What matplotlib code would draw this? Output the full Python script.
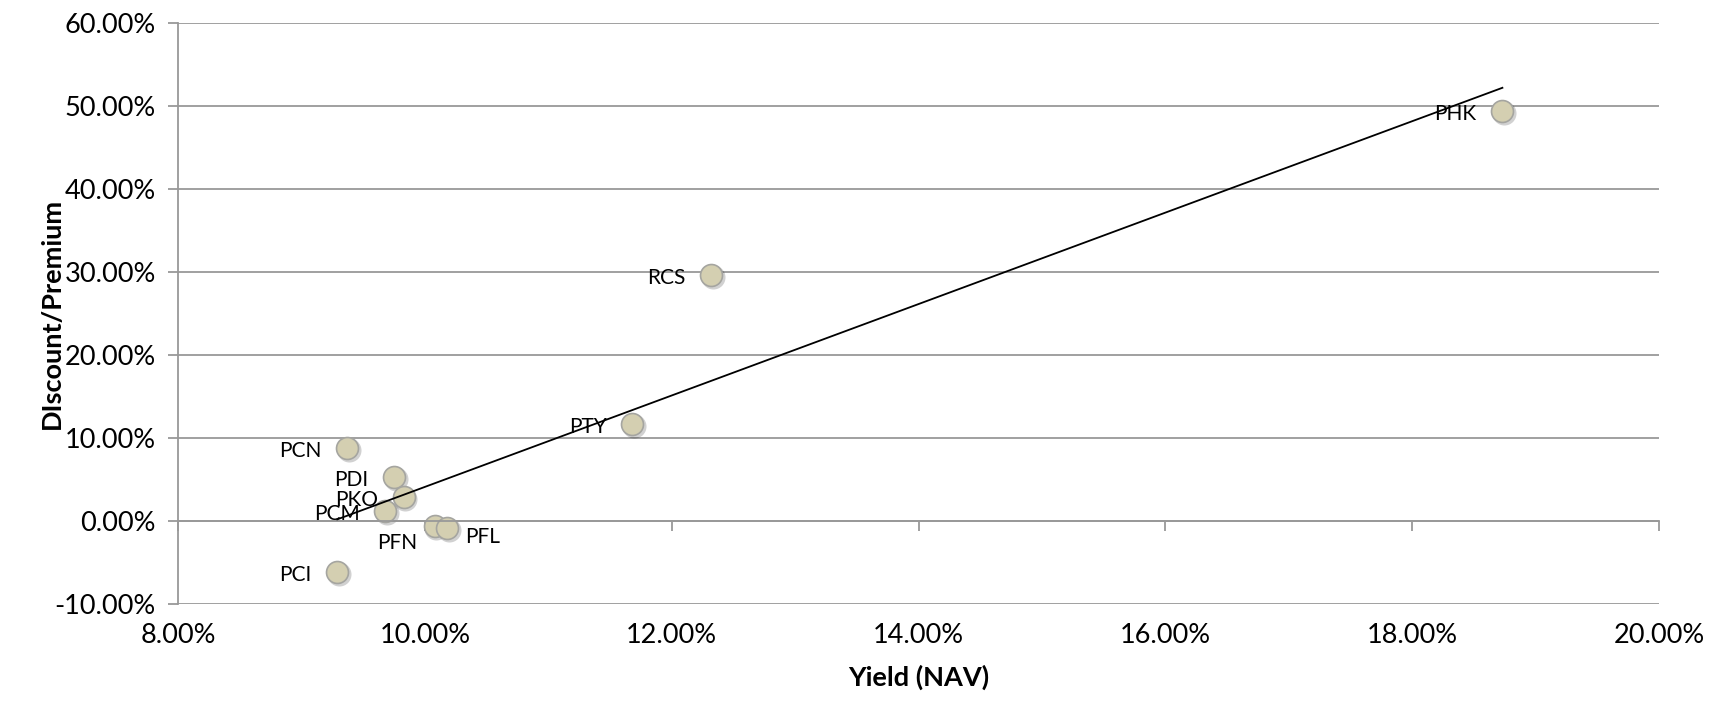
import numpy as np
import matplotlib
matplotlib.use("Agg")
import matplotlib.pyplot as plt
import matplotlib.transforms as mtransforms

plt.rcParams['font.family'] = ['Lato', 'DejaVu Sans']

# fund tickers, NAV yield (%) and discount/premium (%)
funds = ['PHK', 'RCS', 'PTY', 'PCN', 'PDI', 'PKO', 'PCM', 'PFN', 'PFL', 'PCI']
yield_nav = [18.73, 12.32, 11.68, 9.37, 9.75, 9.83, 9.68, 10.08, 10.18, 9.29]
premium = [49.4, 29.6, 11.7, 8.8, 5.3, 2.9, 1.2, -0.6, -0.9, -6.2]

x_ticks = [8, 10, 12, 14, 16, 18, 20]
y_ticks = [-10, 0, 10, 20, 30, 40, 50, 60]

# label offsets in points (default: left of the marker)
label_offsets = {'PFN': (-27, -12, 'center'), 'PFL': (13, -6, 'left')}

grid_col = '#999999'
fig = plt.figure(figsize=(17.14, 7.16), dpi=100)
ax = fig.add_axes([0.1039, 0.1564, 0.8641, 0.8115])

ax.set_xlim(8, 20)
ax.set_ylim(-10, 60)
ax.set_yticks(y_ticks)
ax.set_yticklabels(['%.2f%%' % v for v in y_ticks], fontsize=19.5)
ax.yaxis.grid(True, color=grid_col, lw=1.3)
ax.set_axisbelow(True)
ax.tick_params(axis='y', direction='out', length=7, width=1.3, color=grid_col, pad=9)

for s in ['top', 'right']:
    ax.spines[s].set_visible(False)
ax.spines['left'].set_color(grid_col)
ax.spines['left'].set_linewidth(1.3)
# horizontal axis crosses at zero
ax.spines['bottom'].set_position(('data', 0))
ax.spines['bottom'].set_color(grid_col)
ax.spines['bottom'].set_linewidth(1.3)
ax.set_xticks(x_ticks)
ax.tick_params(axis='x', direction='out', length=7, width=1.3, color=grid_col, labelbottom=False)

sec = ax.secondary_xaxis('bottom')
sec.set_xticks(x_ticks)
sec.set_xticklabels(['%.2f%%' % v for v in x_ticks], fontsize=19.5)
sec.tick_params(length=0, pad=14)
sec.spines['bottom'].set_visible(False)
sec.set_xlabel('Yield (NAV)', fontsize=19.5, fontweight='bold', labelpad=12)

ax.set_ylabel('DIscount/Premium', fontsize=19.5, fontweight='bold')
ax.yaxis.set_label_coords(-0.077, 0.5)

# linear trendline
coef = np.polyfit(yield_nav, premium, 1)
xs = np.array([min(yield_nav), max(yield_nav)])
ax.plot(xs, np.polyval(coef, xs), color='black', lw=1.3, zorder=3)

# marker shadow then markers
shadow = mtransforms.offset_copy(ax.transData, fig=fig, x=1.5, y=-2, units='dots')
ax.scatter(yield_nav, premium, s=300, color='#000000', alpha=0.18, lw=0,
           transform=shadow, zorder=2)
ax.scatter(yield_nav, premium, s=250, color='#d4cfb1', edgecolors='#a5a5a0',
           linewidths=1.2, zorder=2.5)

for name, xv, yv in zip(funds, yield_nav, premium):
    dx, dy, ha = label_offsets.get(name, (-18.5, -2, 'right'))
    ax.annotate(name, (xv, yv), xytext=(dx, dy), textcoords='offset points',
                ha=ha, va='center', fontsize=15, zorder=4)

fig.savefig('out.png', dpi=100, facecolor='white')
